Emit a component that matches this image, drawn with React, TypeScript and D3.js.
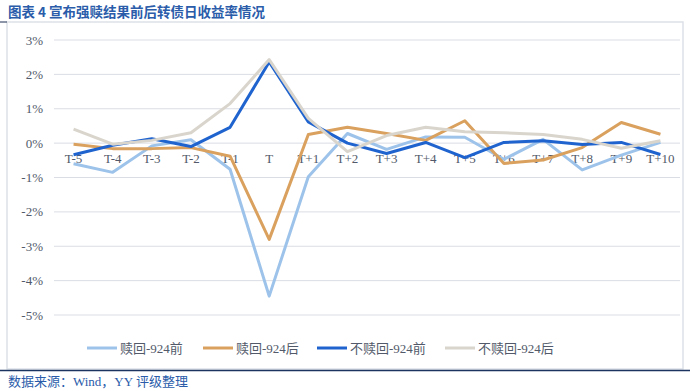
import * as d3 from "d3";

const categories = [
  "T-5", "T-4", "T-3", "T-2", "T-1", "T", "T+1", "T+2",
  "T+3", "T+4", "T+5", "T+6", "T+7", "T+8", "T+9", "T+10",
];

// daily returns, %
const redeemBefore = [-0.6, -0.85, -0.08, 0.1, -0.76, -4.45, -0.98, 0.28, -0.18, 0.18, 0.17, -0.47, 0.11, -0.78, -0.35, 0.02];
const redeemAfter = [-0.03, -0.16, -0.16, -0.13, -0.38, -2.8, 0.25, 0.46, 0.28, 0.08, 0.65, -0.59, -0.49, -0.13, 0.6, 0.26];
const noRedeemBefore = [-0.34, -0.06, 0.13, -0.1, 0.46, 2.36, 0.62, 0.0, -0.3, 0.02, -0.42, 0.02, 0.07, -0.04, 0.02, -0.33];
const noRedeemAfter = [0.41, -0.03, 0.08, 0.3, 1.15, 2.43, 0.72, -0.25, 0.22, 0.46, 0.33, 0.3, 0.25, 0.11, -0.15, 0.07];

const yTicks = [3, 2, 1, 0, -1, -2, -3, -4, -5];

const series = [
  { name: "赎回-924前", values: redeemBefore, color: "#9dc3ea" },
  { name: "赎回-924后", values: redeemAfter, color: "#d9a05e" },
  { name: "不赎回-924前", values: noRedeemBefore, color: "#1f63cf" },
  { name: "不赎回-924后", values: noRedeemAfter, color: "#d9d5cd" },
];

const legendX = [87, 203, 317, 445];

export default function App() {
  const width = 690;
  const height = 391;
  const margin = { left: 54, right: 10 };

  const x = d3
    .scalePoint<string>()
    .domain(categories)
    .range([margin.left, width - margin.right])
    .padding(0.5);

  const y = d3.scaleLinear().domain([-5, 3]).range([315, 40]);

  const line = d3
    .line<number>()
    .x((_, i) => x(categories[i]) ?? 0)
    .y((d) => y(d));

  const serif = "'Liberation Serif', 'Noto Sans CJK SC', serif";
  const textColor = "#525a6a";

  return (
    <svg
      width={width}
      height={height}
      style={{ position: "absolute", left: 0, top: 0, background: "#fff" }}
    >
      <text
        x={8}
        y={17}
        fontSize={13.5}
        fontWeight="bold"
        fill="#2a5caa"
        fontFamily="'Noto Sans CJK SC', sans-serif"
      >
        图表 4 宣布强赎结果前后转债日收益率情况
      </text>
      <rect x={7} y={22} width={676} height={347} fill="none" stroke="#dde1e8" strokeWidth={1.5} />
      <line x1={0} x2={7} y1={22} y2={22} stroke="#1c2f55" strokeWidth={1} />
      <line x1={0} x2={690} y1={370.5} y2={370.5} stroke="#1c3560" strokeWidth={1.5} />

      <g>
        {yTicks.map((t) => (
          <g key={t}>
            <line
              x1={margin.left}
              x2={width - margin.right}
              y1={y(t)}
              y2={y(t)}
              stroke="#dadde4"
              strokeWidth={1}
            />
            <text
              x={43}
              y={y(t)}
              dy="0.35em"
              textAnchor="end"
              fontSize={13}
              fill={textColor}
              fontFamily={serif}
            >
              {`${t}%`}
            </text>
          </g>
        ))}
      </g>

      <g>
        {categories.map((c) => (
          <text
            key={c}
            x={x(c)}
            y={y(0) + 20}
            textAnchor="middle"
            fontSize={13}
            fill={textColor}
            fontFamily={serif}
          >
            {c}
          </text>
        ))}
      </g>

      <g fill="none" strokeWidth={3} strokeLinejoin="round">
        {series.map((s) => (
          <path key={s.name} d={line(s.values) ?? ""} stroke={s.color} />
        ))}
      </g>

      <g>
        {series.map((s, i) => (
          <g key={s.name} transform={`translate(${legendX[i]},348)`}>
            <line x1={0} x2={30} y1={0} y2={0} stroke={s.color} strokeWidth={3} />
            <text
              x={33}
              y={0}
              dy="0.35em"
              fontSize={13}
              fill={textColor}
              fontFamily={serif}
            >
              {s.name}
            </text>
          </g>
        ))}
      </g>

      <text
        x={8}
        y={386}
        fontSize={13}
        fill="#2a5caa"
        fontFamily="'Liberation Serif', 'Noto Sans CJK SC', serif"
      >
        数据来源：Wind，YY 评级整理
      </text>
    </svg>
  );
}
